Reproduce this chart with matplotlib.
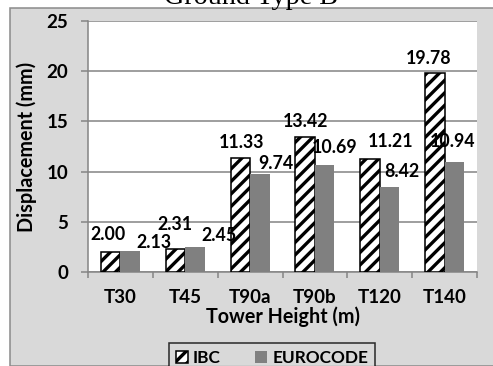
import numpy as np
import matplotlib.pyplot as plt
from matplotlib.patches import Rectangle

towers = ["T30", "T45", "T90a", "T90b", "T120", "T140"]
ibc = [2.00, 2.31, 11.33, 13.42, 11.21, 19.78]
eurocode = [2.13, 2.45, 9.74, 10.69, 8.42, 10.94]

# label nudges (pixels) relative to bar tops
ibc_off = [(-3, 17), (-1, 24), (1, 16), (0, 16), (21, 18), (-6, 15)]
euro_off = [(24, 8), (24, 12), (16, 11), (10, 17), (12, 16), (-2, 21)]

plt.rcParams['font.family'] = ['Lato', 'DejaVu Sans']
plt.rcParams['font.weight'] = 'bold'
plt.rcParams['axes.labelweight'] = 'bold'
plt.rcParams['hatch.linewidth'] = 3.2

W, H, DPI = 493, 366, 75
fig = plt.figure(figsize=(W / DPI, H / DPI), dpi=DPI, facecolor='white')

# grey chart area behind everything
fig.patches.append(Rectangle((10 / W, 0), 1, 1 - 8 / H, transform=fig.transFigure,
                             facecolor='#d9d9d9', edgecolor='#8c8c8c', lw=1.5, zorder=-5))

fig.text(251 / W, 1 - 4 / H, "Ground Type B", ha='center', va='baseline',
         family='Liberation Serif', fontweight='normal', fontsize=27)

ax = fig.add_axes([88 / W, (H - 272) / H, (477 - 88) / W, (272 - 21) / H])
ax.set_facecolor('white')

x = np.arange(len(towers))
w = 0.3
b1 = ax.bar(x - w / 2, ibc, w, color='white', edgecolor='black', hatch='//', lw=1.5,
            label='IBC', zorder=3)
b2 = ax.bar(x + w / 2, eurocode, w, color='#808080', label='EUROCODE', zorder=3)

for i in range(len(towers)):
    ax.annotate(f"{ibc[i]:.2f}", (x[i] - w / 2, ibc[i]), xytext=ibc_off[i],
                textcoords='offset pixels', ha='center', va='center', fontsize=17, zorder=5)
    ax.annotate(f"{eurocode[i]:.2f}", (x[i] + w / 2, eurocode[i]), xytext=euro_off[i],
                textcoords='offset pixels', ha='center', va='center', fontsize=17, zorder=5)

ax.set_xlim(-0.5, len(towers) - 0.5)
ax.set_ylim(0, 25)
ax.set_yticks(np.arange(0, 26, 5))
ax.yaxis.grid(True, color='#868686', lw=1.5, zorder=0)
ax.set_axisbelow(True)

ax.set_xticks(np.arange(-0.5, len(towers)), [])
ax.set_xticks(x, towers, minor=True)
ax.tick_params(axis='x', which='major', length=6, width=1.5, color='#868686', direction='out')
ax.tick_params(axis='x', which='minor', length=0, pad=16, labelsize=18)
ax.tick_params(axis='y', length=7, width=1.5, color='#868686', pad=12, labelsize=18)

for s in ['top', 'right']:
    ax.spines[s].set_visible(False)
for s in ['left', 'bottom']:
    ax.spines[s].set_color('#868686')
    ax.spines[s].set_linewidth(1.5)

ax.set_xlabel("Tower Height (m)", fontsize=19, labelpad=1)
ax.set_ylabel("Displacement (mm)", fontsize=19)
ax.yaxis.set_label_coords(-0.131, 0.5)

leg = fig.legend(handles=[b1, b2], loc='upper center', bbox_to_anchor=(272 / W, 1 - 343 / H),
                 ncol=2, fontsize=16.5, frameon=True, fancybox=False, facecolor='#d9d9d9',
                 edgecolor='black', handlelength=0.7, handleheight=0.7, handletextpad=0.3,
                 columnspacing=2.0, borderpad=0.4, borderaxespad=0)
leg.get_frame().set_linewidth(1.5)

fig.savefig('out.png', dpi=DPI)
